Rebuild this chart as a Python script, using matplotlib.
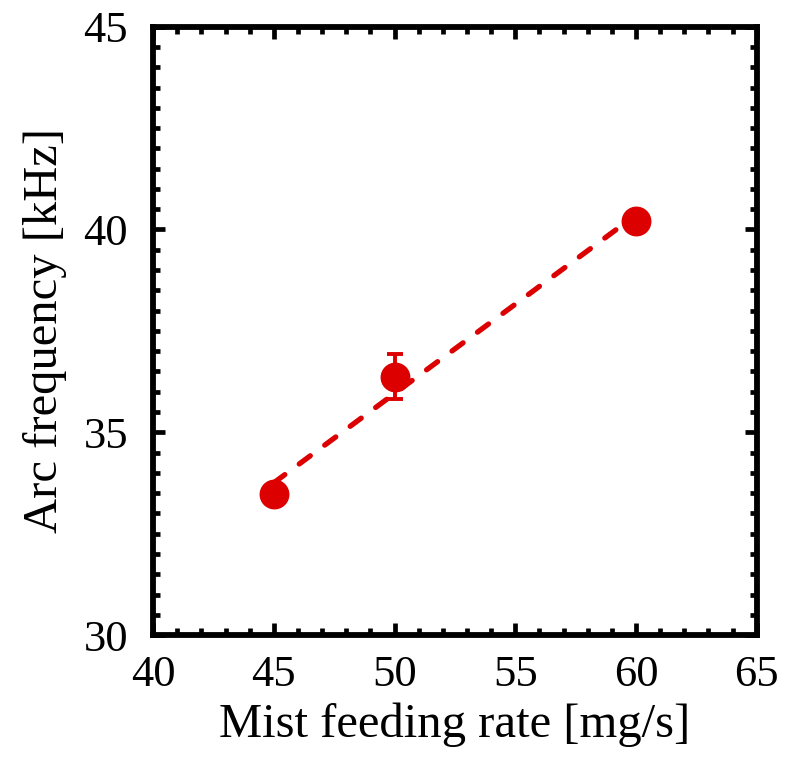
import numpy as np
import matplotlib
matplotlib.use("Agg")
import matplotlib.pyplot as plt
from matplotlib.ticker import MultipleLocator

# mist feeding rate vs arc frequency
feed_rate = [45, 50, 60]          # mg/s
arc_freq = [33.48, 36.37, 40.22]  # kHz
arc_err = [0.0, 0.56, 0.0]

RED = "#dc0000"
plt.rcParams.update({"font.family": ["Liberation Serif", "DejaVu Serif"], "font.size": 32})

fig = plt.figure(figsize=(7.87, 7.62), dpi=100)
ax = fig.add_axes([0.1945, 0.1665, 0.767, 0.7985])

# linear fit through the three points
k, b = np.polyfit(feed_rate, arc_freq, 1)
xf = np.array([feed_rate[0], feed_rate[-1]])
ln, = ax.plot(xf, k * xf + b, color=RED, lw=3.8, ls="--", dash_capstyle="round")
ln.set_dashes((2.6, 3.4))

ax.errorbar(feed_rate, arc_freq, yerr=arc_err, fmt="o", color=RED, ms=20.5,
            elinewidth=2.8, capsize=6, capthick=2.8, zorder=3)

ax.set_xlim(40, 65); ax.set_ylim(30, 45)
ax.xaxis.set_major_locator(MultipleLocator(5)); ax.xaxis.set_minor_locator(MultipleLocator(1))
ax.yaxis.set_major_locator(MultipleLocator(5)); ax.yaxis.set_minor_locator(MultipleLocator(0.5))
ax.tick_params(which="both", direction="in", top=True, right=True, width=3.4)
ax.tick_params(which="major", length=8.6)
ax.tick_params(axis="x", which="major", pad=14)
ax.tick_params(axis="y", which="major", pad=18)
ax.tick_params(which="minor", length=4.8)
for s in ax.spines.values():
    s.set_linewidth(4.2)

ax.set_xlabel("Mist feeding rate [mg/s]", fontsize=35, labelpad=6)
ax.set_ylabel("Arc frequency [kHz]", fontsize=35, labelpad=12)

fig.savefig("out.png", dpi=100)
